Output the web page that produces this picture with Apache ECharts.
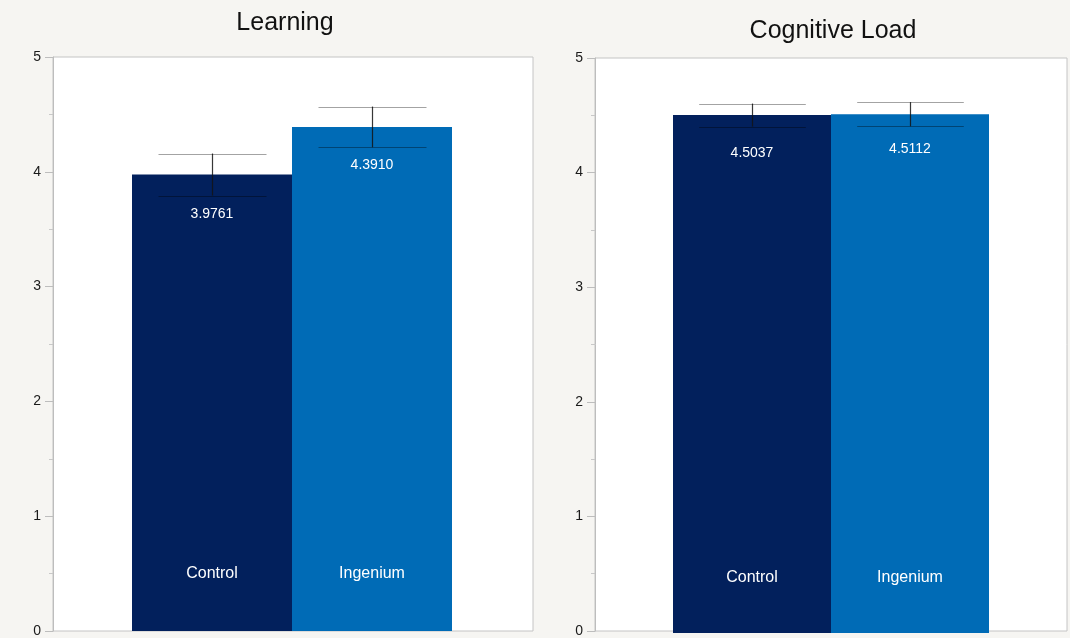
<!DOCTYPE html>
<html>
<head>
<meta charset="utf-8">
<title>Learning and Cognitive Load</title>
<script src="https://cdn.jsdelivr.net/npm/echarts@6/dist/echarts.min.js"></script>
<style>
  html, body { margin: 0; padding: 0; background: #f6f5f2; }
  #chart { width: 1070px; height: 638px; }
</style>
</head>
<body>
<div id="chart"></div>
<script>
// Group means with standard-error bars for two measures
const groups = ['Control', 'Ingenium'];
const learningMeans = [3.9761, 4.3910];
const learningErr = [0.183, 0.177];
const loadMeans = [4.5037, 4.5112];
const loadErr = [0.100, 0.105];
const yTicks = [0, 1, 2, 3, 4, 5];
const panelTitles = ['Learning', 'Cognitive Load'];

const groupColors = ['#02205c', '#006bb6'];
const FONT = '"Liberation Sans", Arial, Helvetica, sans-serif';

// Panel geometry: outer frame (white plot area) and the inner band holding the bars
const panels = [
  { frame: { left: 53, top: 57, width: 480, height: 574 },
    bars: { left: 132, width: 320 }, titleX: 285, titleY: 23,
    means: learningMeans, err: learningErr, catMargin: 57, valueDist: [33, 31] },
  { frame: { left: 595, top: 58, width: 472, height: 575 },
    bars: { left: 673, width: 316 }, titleX: 833, titleY: 31,
    means: loadMeans, err: loadErr, catMargin: 55, valueDist: [31, 28] }
];

const grid = [], xAxis = [], yAxis = [], series = [], graphic = [];

panels.forEach((p, i) => {
  const frameIdx = grid.length;
  grid.push({
    left: p.frame.left, top: p.frame.top, width: p.frame.width, height: p.frame.height,
    show: true, backgroundColor: '#ffffff', borderColor: '#c4c4c4', borderWidth: 1
  });
  xAxis.push({ gridIndex: frameIdx, type: 'category', data: [''], show: false });
  yAxis.push({
    gridIndex: frameIdx, type: 'value',
    min: yTicks[0], max: yTicks[yTicks.length - 1], interval: 1,
    axisLine: { show: true, lineStyle: { color: '#bdbdbd', width: 1 } },
    axisTick: { show: true, length: 8, lineStyle: { color: '#bdbdbd' } },
    minorTick: { show: true, splitNumber: 2, length: 4, lineStyle: { color: '#c8c8c8' } },
    splitLine: { show: false },
    axisLabel: { color: '#1a1a1a', fontSize: 14, fontFamily: FONT, margin: 12 }
  });

  const barIdx = grid.length;
  grid.push({
    left: p.bars.left, top: p.frame.top, width: p.bars.width, height: p.frame.height
  });
  xAxis.push({
    gridIndex: barIdx, type: 'category', data: groups, z: 10,
    axisLine: { show: false }, axisTick: { show: false },
    axisLabel: {
      inside: true, margin: p.catMargin, verticalAlign: 'middle',
      color: '#ffffff', fontSize: 16, fontFamily: FONT
    }
  });
  yAxis.push({
    gridIndex: barIdx, type: 'value',
    min: yTicks[0], max: yTicks[yTicks.length - 1], show: false
  });

  series.push({
    type: 'bar', xAxisIndex: barIdx, yAxisIndex: barIdx,
    barCategoryGap: 0, barGap: 0,
    data: p.means.map((v, k) => ({
      value: v,
      itemStyle: { color: groupColors[k] },
      label: { distance: p.valueDist[k] }
    })),
    label: {
      show: true, position: 'insideTop',
      color: '#ffffff', fontSize: 14, fontFamily: FONT,
      formatter: (d) => d.value.toFixed(4)
    },
    z: 2
  });

  series.push({
    type: 'custom', xAxisIndex: barIdx, yAxisIndex: barIdx, z: 5,
    data: p.means.map((v, k) => [k, v - p.err[k], v + p.err[k]]),
    renderItem: (params, api) => {
      const lo = api.coord([api.value(0), api.value(1)]);
      const hi = api.coord([api.value(0), api.value(2)]);
      const half = api.size([1, 0])[0] * 0.3375;
      const x = Math.round(hi[0]) + 0.5;
      const capStyle = { stroke: 'rgba(0,0,0,0.36)', lineWidth: 1 };
      return {
        type: 'group',
        children: [
          { type: 'line', shape: { x1: x, y1: hi[1], x2: x, y2: lo[1] },
            style: { stroke: 'rgba(20,20,20,0.85)', lineWidth: 1.2 } },
          { type: 'line', shape: { x1: x - half, y1: Math.round(hi[1]) + 0.5, x2: x + half, y2: Math.round(hi[1]) + 0.5 },
            style: capStyle },
          { type: 'line', shape: { x1: x - half, y1: Math.round(lo[1]) + 0.5, x2: x + half, y2: Math.round(lo[1]) + 0.5 },
            style: capStyle }
        ]
      };
    }
  });

  graphic.push({
    type: 'text', x: p.titleX, y: p.titleY,
    style: {
      text: panelTitles[i], fill: '#111111', font: '25px ' + FONT,
      textAlign: 'center', textVerticalAlign: 'middle'
    }
  });
});

const chart = echarts.init(document.getElementById('chart'), null, { renderer: 'canvas' });
chart.setOption({
  backgroundColor: '#f6f5f2',
  animation: false,
  grid, xAxis, yAxis, series, graphic
});
</script>
</body>
</html>
